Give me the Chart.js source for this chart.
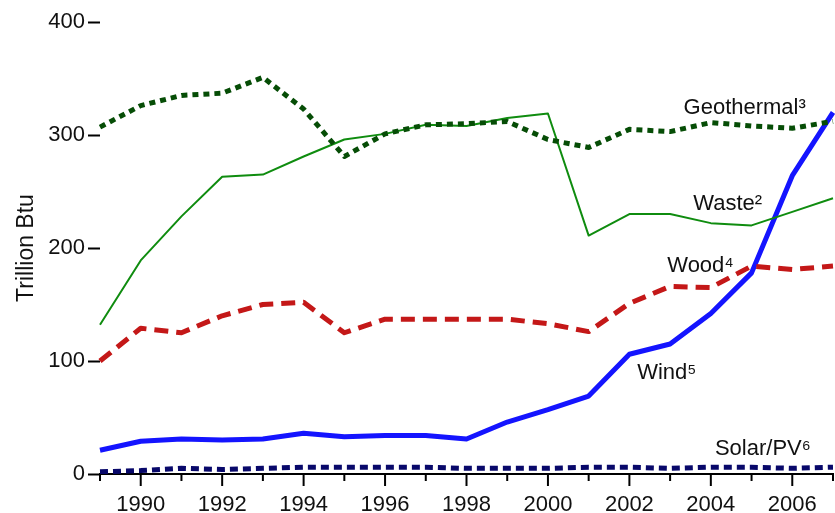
<!DOCTYPE html>
<html>
<head>
<meta charset="utf-8">
<script src="https://cdn.jsdelivr.net/npm/chart.js@4/dist/chart.umd.min.js"></script>
<style>
  html, body { margin: 0; padding: 0; background: #fff; }
  #wrap { width: 835px; height: 513px; }
</style>
</head>
<body>
<div id="wrap"><canvas id="renewChart" width="835" height="513"></canvas></div>
<script>
var years = ['1989', '1990', '1991', '1992', '1993', '1994', '1995', '1996', '1997', '1998',
             '1999', '2000', '2001', '2002', '2003', '2004', '2005', '2006', '2007'];

var geothermal = [307, 326, 335, 337, 351, 323, 281, 301, 309, 310, 312, 296, 289, 305, 303, 311, 308, 306, 312];
var waste      = [132, 189, 228, 263, 265, 281, 296, 301, 309, 308, 315, 319, 211, 230, 230, 222, 220, 232, 244];
var wood       = [100, 129, 125, 140, 150, 152, 125, 137, 137, 137, 137, 133, 126, 151, 166, 165, 184, 181, 184];
var wind       = [21, 29, 31, 30, 31, 36, 33, 34, 34, 31, 46, 57, 69, 106, 115, 142, 178, 264, 320];
var solar      = [2, 3, 5, 4, 5, 6, 6, 6, 6, 5, 5, 5, 6, 6, 5, 6, 6, 5, 6];

var yTicks = [0, 100, 200, 300, 400];

// series names drawn next to the lines (data coordinates: year index, value)
var seriesLabels = [
    { text: 'Geothermal\u00b3', x: 14.33, y: 324 },
    { text: 'Waste\u00b2',      x: 14.57, y: 239 },
    { text: 'Wood\u2074',       x: 13.93, y: 184 },
    { text: 'Wind\u2075',       x: 13.19, y: 89 },
    { text: 'Solar/PV\u2076',   x: 15.10, y: 22 }
];

var FONT = '"Liberation Sans", Arial, sans-serif';

var lineLabels = {
    id: 'lineLabels',
    afterDatasetsDraw: function (chart) {
        var ctx = chart.ctx;
        var xs = chart.scales.x, ys = chart.scales.y;
        ctx.save();
        ctx.fillStyle = '#111';
        ctx.font = '22px ' + FONT;
        ctx.textAlign = 'left';
        ctx.textBaseline = 'middle';
        for (var i = 0; i < seriesLabels.length; i++) {
            var l = seriesLabels[i];
            var px = xs.left + (xs.right - xs.left) * l.x / (years.length - 1);
            ctx.fillText(l.text, px, ys.getPixelForValue(l.y));
        }
        ctx.restore();
    }
};

// x axis tick marks: long on even years, short on odd years
var yearTicks = {
    id: 'yearTicks',
    afterDraw: function (chart) {
        var ctx = chart.ctx;
        var xs = chart.scales.x;
        ctx.save();
        ctx.strokeStyle = '#000';
        ctx.lineWidth = 2;
        for (var i = 0; i < years.length; i++) {
            var px = xs.getPixelForValue(i);
            var len = (parseInt(years[i]) % 2 == 0) ? 12 : 7;
            ctx.beginPath();
            ctx.moveTo(px, xs.top);
            ctx.lineTo(px, xs.top + len);
            ctx.stroke();
        }
        ctx.restore();
    }
};

var ctx_ = document.getElementById('renewChart').getContext('2d');
var renewChart = new Chart(ctx_, {
    type: 'line',
    data: {
        labels: years,
        datasets: [
            { label: 'Geothermal', data: geothermal, borderColor: '#064d06', borderWidth: 5, borderDash: [6, 5] },
            { label: 'Waste', data: waste, borderColor: '#0f8c0f', borderWidth: 2 },
            { label: 'Wood', data: wood, borderColor: '#c41818', borderWidth: 5, borderDash: [14, 8] },
            { label: 'Wind', data: wind, borderColor: '#1414ff', borderWidth: 5 },
            { label: 'Solar/PV', data: solar, borderColor: '#08086a', borderWidth: 5, borderDash: [8, 5] }
        ]
    },
    options: {
        responsive: false,
        animation: false,
        devicePixelRatio: 1,
        layout: { padding: { top: 22, right: 2, bottom: 0, left: 0 } },
        elements: {
            point: { radius: 0 },
            line: { tension: 0, fill: false, borderCapStyle: 'butt', borderJoinStyle: 'round' }
        },
        plugins: {
            legend: { display: false },
            tooltip: { enabled: false }
        },
        scales: {
            x: {
                type: 'category',
                offset: false,
                afterFit: function (s) {
                    s.height = 39;
                    s.paddingLeft = 0;
                    s.paddingRight = 0;
                },
                grid: { display: true, drawOnChartArea: false, drawTicks: false },
                border: { display: true, color: '#000', width: 2 },
                ticks: {
                    autoSkip: false,
                    maxRotation: 0,
                    padding: 18,
                    color: '#111',
                    font: { family: FONT, size: 22 },
                    callback: function (v, i) {
                        var yr = parseInt(years[i]);
                        return yr % 2 == 0 ? years[i] : '';
                    }
                }
            },
            y: {
                min: 0,
                max: 400,
                afterFit: function (s) { s.width = 100; },
                afterBuildTicks: function (s) {
                    s.ticks = yTicks.map(function (v) { return { value: v }; });
                },
                grid: { display: true, drawOnChartArea: false, drawTicks: true, tickLength: 12, tickWidth: 2, tickColor: '#000' },
                border: { display: false },
                ticks: {
                    padding: 3,
                    color: '#111',
                    font: { family: FONT, size: 22 }
                },
                title: {
                    display: true,
                    text: 'Trillion Btu',
                    color: '#111',
                    font: { family: FONT, size: 23 },
                    padding: { top: 13, bottom: 0 }
                }
            }
        }
    },
    plugins: [lineLabels, yearTicks]
});
</script>
</body>
</html>
